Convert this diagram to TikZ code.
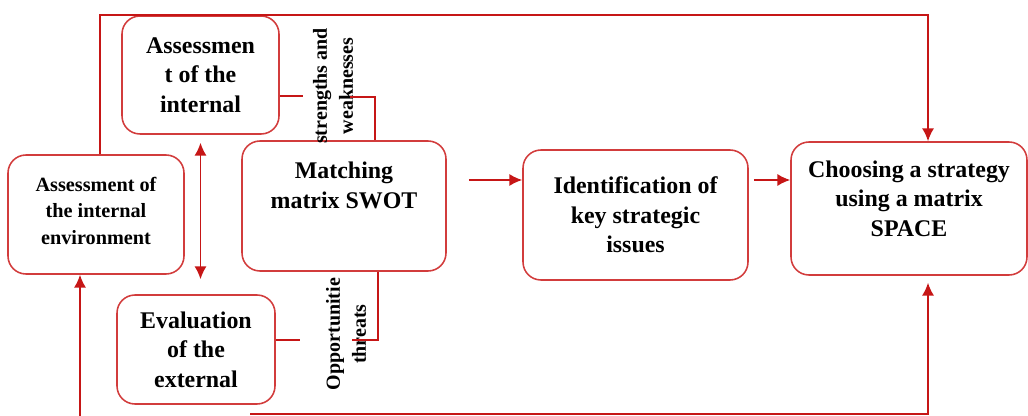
\documentclass[tikz,border=0pt]{standalone}
\usepackage{fontspec}
\setmainfont{Liberation Serif}
\usetikzlibrary{positioning,arrows.meta}
\definecolor{boxred}{RGB}{210,60,60}
\definecolor{linered}{RGB}{198,22,22}
\tikzstyle{block}=[draw=boxred,rounded corners=0.45cm,align=center,inner sep=2pt,
  font=\bfseries\fontsize{17}{21}\selectfont]
\tikzstyle{side}=[rotate=90,align=center,inner sep=0pt,
  font=\bfseries\fontsize{14.2}{18.5}\selectfont]
\tikzstyle{link}=[draw=linered]
\newcommand{\newBlock}[4]{\node[block,#4](#1) at (#3){#2};}

\begin{document}
\begin{tikzpicture}[>={Latex[length=0.32cm,width=0.3cm]},
      line width=1.1pt
      ]
      \useasboundingbox (0,0) rectangle (25.7,-10.4);
      \newBlock{asin}{Assessmen\\t of the\\internal}{5.0125,-1.875}{minimum width=3.925cm,minimum height=2.95cm}
      \newBlock{env}{Assessment of\\the internal\\environment}{2.4,-5.3625}{minimum width=4.4cm,minimum height=2.975cm,text depth=0.2cm,font=\bfseries\fontsize{14.4}{18.8}\selectfont}
      \newBlock{swot}{Matching\\matrix SWOT}{8.6,-5.15}{minimum width=5.1cm,minimum height=3.25cm,text depth=1.05cm}
      \newBlock{evex}{Evaluation\\of the\\external}{4.9,-8.7375}{minimum width=3.95cm,minimum height=2.725cm}
      \newBlock{iden}{Identification of\\key strategic\\issues}{15.8875,-5.375}{minimum width=5.625cm,minimum height=3.25cm}
      \newBlock{choose}{Choosing a strategy\\using a matrix\\SPACE}{22.725,-5.2125}{minimum width=5.9cm,minimum height=3.325cm,text depth=0.5cm}
      \node[side] (sw) at (8.325,-2.15) {strengths and\\weaknesses};
      \node[side] (op) at (8.65,-8.35) {Opportunitie\\threats};
      % corner and break points
      \coordinate (top l) at (2.5,-0.375);
      \coordinate (top r) at (23.2,-0.375);
      \coordinate (bot l) at (2.0,-10.4);
      \coordinate (bot a) at (6.25,-10.35);
      \coordinate (bot r) at (23.2,-10.35);
      \coordinate (row) at (0,-4.5);
      \coordinate (sA) at (7.575,-2.4);
      \coordinate (sB) at (8.75,-2.425);
      \coordinate (sC) at (9.375,-2.425);
      \coordinate (oA) at (7.5,-8.5);
      \coordinate (oB) at (8.8,-8.5);
      \coordinate (oC) at (9.45,-8.5);
      \draw[link,->] (env.north -| top l) -- (top l) -- (top r) -- (top r |- choose.north);
      \draw[link,->] (bot l) -- (bot l |- env.south);
      \draw[link,->] (bot a) -- (bot r) -- ([yshift=-0.175cm]bot r |- choose.south);
      \draw[link,<->,shorten <=0.2cm,shorten >=0.375cm] (asin.south) -- (asin.south |- evex.north);
      \draw[link,->] ([xshift=0.55cm]swot.east |- row) -- (iden.west |- row);
      \draw[link,->] ([xshift=0.125cm]iden.east |- row) -- (choose.west |- row);
      \draw[link] (asin.east |- sA) -- (sA);
      \draw[link] (sB) -- (sC) -- (sC |- swot.north);
      \draw[link] (evex.east |- oA) -- (oA);
      \draw[link] (oB) -- (oC) -- (oC |- swot.south);
    \end{tikzpicture}
\end{document}
